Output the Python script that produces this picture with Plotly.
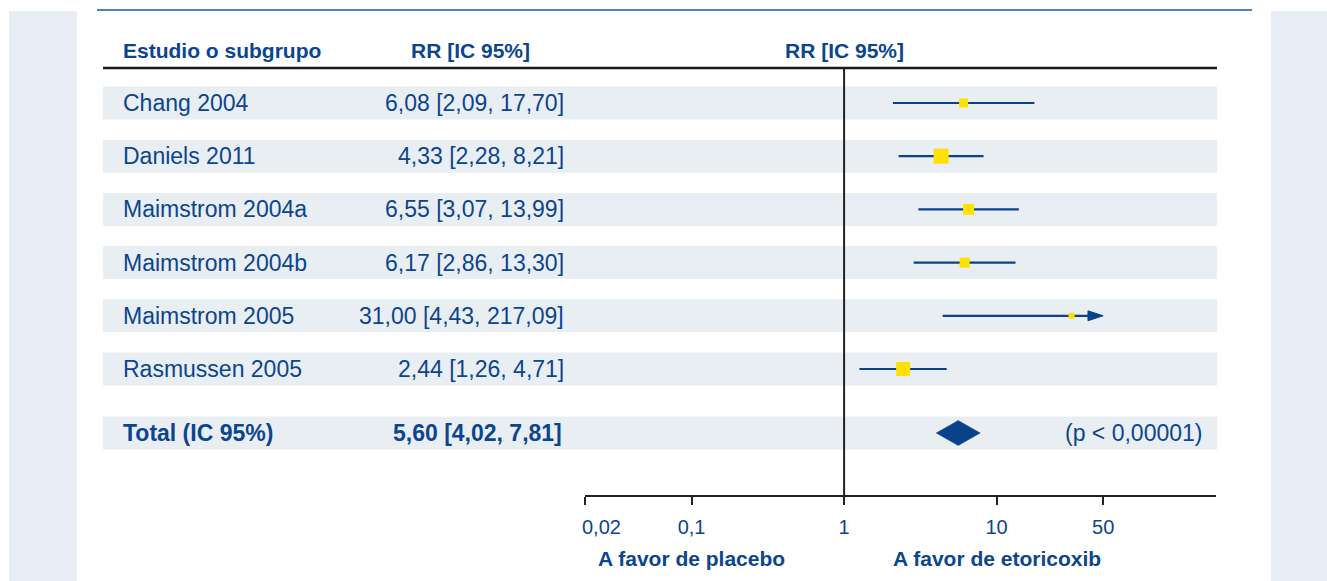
import numpy as np
import plotly.graph_objects as go

# ---------------- data ----------------
studies = ["Chang 2004", "Daniels 2011", "Maimstrom 2004a", "Maimstrom 2004b",
           "Maimstrom 2005", "Rasmussen 2005"]
rr = [6.08, 4.33, 6.55, 6.17, 31.00, 2.44]
ci_low = [2.09, 2.28, 3.07, 2.86, 4.43, 1.26]
ci_high = [17.70, 8.21, 13.99, 13.30, 217.09, 4.71]
weights_px = [9, 15, 11, 10, 6, 14]          # marker sizes
total_label = "Total (IC 95%)"
total_rr, total_low, total_high = 5.60, 4.02, 7.81
p_text = "(p < 0,00001)"
tick_vals = [0.02, 0.1, 1, 10, 50]
tick_text = ["0,02", "0,1", "1", "10", "50"]
header_study = "Estudio o subgrupo"
header_rr = "RR [IC 95%]"
left_label = "A favor de placebo"
right_label = "A favor de etoricoxib"

# ---------------- style / layout ----------------
W, H = 1327, 581
TXT = "#0b458f"
LINE = "#0a428a"
SQ = "#ffe100"
STRIPE = "#e9eef3"
SIDE = "#e9edf5"
FONT = "Liberation Sans, Arial, sans-serif"
CLIP_MAX = 50  # display limit for CI lines (arrow beyond)

def px(x):
    return x / W

def py(y):
    return 1 - y / H

ROW0, ROW_STEP, TOTAL_GAP = 103, 53.2, 64
AX_TOP, AX_BOT = 68, 495
X_LEFT, X_RIGHT = 585, 1216
DECADE = 152.5

def fmt(v):
    return f"{v:.2f}".replace(".", ",")

n = len(studies)
ypos = list(range(n))
y_total = (n - 1) + TOTAL_GAP / ROW_STEP
y_top = (AX_TOP - ROW0) / ROW_STEP
y_bot = (AX_BOT - ROW0) / ROW_STEP
xr0 = np.log10(tick_vals[0])
xr1 = xr0 + (X_RIGHT - X_LEFT) / DECADE

fig = go.Figure()

# CI lines
for i in range(n):
    hi = min(ci_high[i], CLIP_MAX)
    arrow = ci_high[i] > CLIP_MAX
    fig.add_trace(go.Scatter(
        x=[ci_low[i], hi], y=[ypos[i], ypos[i]],
        mode="lines+markers" if arrow else "lines",
        line=dict(color=LINE, width=2.2),
        marker=dict(symbol="arrow", angleref="previous", size=[0, 16], opacity=1,
                    color=LINE, line=dict(width=1, color=LINE)) if arrow else None,
        showlegend=False, hoverinfo="skip", cliponaxis=False))

# squares
fig.add_trace(go.Scatter(
    x=rr, y=ypos, mode="markers",
    marker=dict(symbol="square", size=weights_px, color=SQ, opacity=1, line=dict(width=0)),
    showlegend=False, hoverinfo="skip"))

# diamond
hd = 12.5 / ROW_STEP
fig.add_trace(go.Scatter(
    x=[total_low, total_rr, total_high, total_rr, total_low],
    y=[y_total, y_total - hd, y_total, y_total + hd, y_total],
    mode="lines", fill="toself", fillcolor=LINE, line=dict(color=LINE, width=0.5),
    showlegend=False, hoverinfo="skip"))

# vertical line at 1
fig.add_trace(go.Scatter(
    x=[1, 1], y=[y_top, y_bot], mode="lines",
    line=dict(color="#222222", width=2), showlegend=False, hoverinfo="skip",
    cliponaxis=False))

shapes = []
# side panels
shapes.append(dict(type="rect", xref="paper", yref="paper", x0=px(9), x1=px(77),
                   y0=0, y1=py(11), fillcolor=SIDE, line=dict(width=0), layer="below"))
shapes.append(dict(type="rect", xref="paper", yref="paper", x0=px(1271), x1=1,
                   y0=0, y1=py(11), fillcolor=SIDE, line=dict(width=0), layer="below"))
# top blue line
shapes.append(dict(type="line", xref="paper", yref="paper", x0=px(97), x1=px(1252),
                   y0=py(10), y1=py(10), line=dict(color="#1d57a5", width=1.5)))
# header line
shapes.append(dict(type="line", xref="paper", yref="paper", x0=px(103), x1=px(1217),
                   y0=py(AX_TOP), y1=py(AX_TOP), line=dict(color="#1a1a1a", width=2.5)))
# stripes
half = 16.5 / ROW_STEP
for yy in ypos + [y_total]:
    shapes.append(dict(type="rect", xref="paper", yref="y", x0=px(103), x1=px(1217),
                       y0=yy - half, y1=yy + half, fillcolor=STRIPE,
                       line=dict(width=0), layer="below"))

ann = []
for i in range(n):
    ann.append(dict(x=px(121), y=ypos[i], xref="paper", yref="y", text=studies[i],
                    xanchor="left", yanchor="middle", showarrow=False,
                    font=dict(size=23, color=TXT, family=FONT)))
    ann.append(dict(x=px(566), y=ypos[i], xref="paper", yref="y",
                    text=f"{fmt(rr[i])} [{fmt(ci_low[i])}, {fmt(ci_high[i])}]",
                    xanchor="right", yanchor="middle", showarrow=False,
                    font=dict(size=23, color=TXT, family=FONT)))
ann.append(dict(x=px(121), y=y_total, xref="paper", yref="y", text=f"<b>{total_label}</b>",
                xanchor="left", yanchor="middle", showarrow=False,
                font=dict(size=23, color=TXT, family=FONT)))
ann.append(dict(x=px(564), y=y_total, xref="paper", yref="y",
                text=f"<b>{fmt(total_rr)} [{fmt(total_low)}, {fmt(total_high)}]</b>",
                xanchor="right", yanchor="middle", showarrow=False,
                font=dict(size=23, color=TXT, family=FONT)))
ann.append(dict(x=px(1204), y=y_total, xref="paper", yref="y", text=p_text,
                xanchor="right", yanchor="middle", showarrow=False,
                font=dict(size=23, color=TXT, family=FONT)))
# headers
ann.append(dict(x=px(121), y=py(50), xref="paper", yref="paper", text=f"<b>{header_study}</b>",
                xanchor="left", yanchor="middle", showarrow=False,
                font=dict(size=21, color=TXT, family=FONT)))
ann.append(dict(x=px(470), y=py(50), xref="paper", yref="paper", text=f"<b>{header_rr}</b>",
                xanchor="center", yanchor="middle", showarrow=False,
                font=dict(size=21, color=TXT, family=FONT)))
ann.append(dict(x=0, y=py(50), xref="x", yref="paper", text=f"<b>{header_rr}</b>",
                xanchor="center", yanchor="middle", showarrow=False,
                font=dict(size=21, color=TXT, family=FONT)))
# bottom labels
ann.append(dict(x=np.log10(0.1), y=py(558), xref="x", yref="paper", text=f"<b>{left_label}</b>",
                xanchor="center", yanchor="middle", showarrow=False,
                font=dict(size=21, color=TXT, family=FONT)))
ann.append(dict(x=np.log10(10), y=py(558), xref="x", yref="paper", text=f"<b>{right_label}</b>",
                xanchor="center", yanchor="middle", showarrow=False,
                font=dict(size=21, color=TXT, family=FONT)))
# first tick label shifted to stay inside
ann.append(dict(x=np.log10(tick_vals[0]), y=py(527), xref="x", yref="paper", text=tick_text[0],
                xanchor="left", yanchor="middle", xshift=-5, showarrow=False,
                font=dict(size=20, color=TXT, family=FONT)))

fig.update_layout(
    width=W, height=H, autosize=False,
    margin=dict(l=0, r=0, t=0, b=0, pad=0),
    paper_bgcolor="white", plot_bgcolor="rgba(0,0,0,0)",
    shapes=shapes, annotations=ann,
    xaxis=dict(type="log", domain=[px(X_LEFT), px(X_RIGHT)], range=[xr0, xr1],
               showgrid=False, zeroline=False, showline=True, linecolor="#222222",
               linewidth=2, ticks="outside", ticklen=8, tickwidth=2, tickcolor="#222222",
               tickvals=tick_vals, ticktext=[""] + tick_text[1:],
               tickfont=dict(size=20, color=TXT, family=FONT), ticklabelstandoff=5,
               fixedrange=True),
    yaxis=dict(domain=[py(AX_BOT), py(AX_TOP)], range=[y_bot, y_top], visible=False,
               showgrid=False, zeroline=False, fixedrange=True),
)

fig.write_html("out.html", config={"displayModeBar": False},
               post_script="document.body.style.margin='0';document.body.style.padding='0';")
